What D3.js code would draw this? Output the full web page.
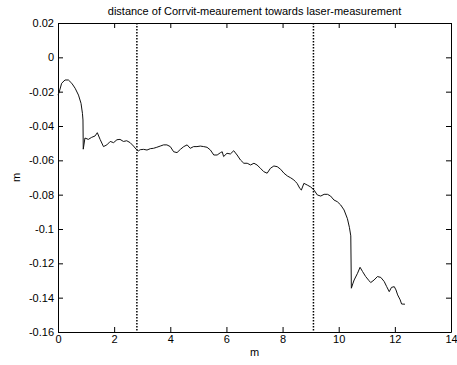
<!DOCTYPE html>
<html><head><meta charset="utf-8">
<script src="https://cdn.jsdelivr.net/npm/d3@7"></script>
<style>body{margin:0;background:#fff;}svg{display:block;}text{font-family:"Liberation Sans",Arial,sans-serif;fill:#000;}</style>
</head><body>
<script>
const titleText = "distance of Corrvit-meaurement towards laser-measurement";
const xLabel = "m";
const yLabel = "m";
const xTicks = [0, 2, 4, 6, 8, 10, 12, 14];
const yTicks = [0.02, 0, -0.02, -0.04, -0.06, -0.08, -0.1, -0.12, -0.14, -0.16];
const markerX = [2.81, 9.10];
const distX = [0,0.04,0.13,0.25,0.37,0.49,0.61,0.73,0.82,0.87,0.89,0.90,0.96,1.08,1.20,1.32,1.40,1.50,1.62,1.74,1.86,1.98,2.10,2.21,2.33,2.45,2.57,2.69,2.79,2.81,2.86,2.93,3.05,3.17,3.29,3.40,3.52,3.64,3.76,3.88,4.00,4.12,4.24,4.36,4.48,4.60,4.71,4.83,4.95,5.07,5.19,5.31,5.43,5.55,5.67,5.79,5.85,5.90,6.02,6.14,6.26,6.38,6.50,6.62,6.74,6.86,6.98,7.09,7.21,7.33,7.45,7.57,7.69,7.81,7.93,8.05,8.17,8.29,8.40,8.46,8.52,8.62,8.67,8.76,8.88,9.00,9.12,9.24,9.36,9.48,9.60,9.71,9.83,9.95,10.07,10.19,10.31,10.38,10.43,10.45,10.50,10.55,10.67,10.76,10.85,10.96,11.08,11.14,11.26,11.38,11.50,11.62,11.71,11.80,11.88,11.98,12.04,12.10,12.19,12.24,12.36];
const distY = [-0.022,-0.0204,-0.0151,-0.0132,-0.0132,-0.0151,-0.018,-0.022,-0.0268,-0.0326,-0.0365,-0.0535,-0.047,-0.0478,-0.0466,-0.0458,-0.0439,-0.0478,-0.052,-0.051,-0.049,-0.0497,-0.048,-0.0478,-0.049,-0.0486,-0.0497,-0.0517,-0.0536,-0.054,-0.0545,-0.0538,-0.0536,-0.054,-0.0532,-0.053,-0.0524,-0.0517,-0.051,-0.051,-0.052,-0.055,-0.0555,-0.0536,-0.052,-0.051,-0.053,-0.052,-0.052,-0.0517,-0.052,-0.0524,-0.054,-0.0569,-0.0569,-0.0555,-0.055,-0.0578,-0.0559,-0.0563,-0.0544,-0.0569,-0.0598,-0.0617,-0.0617,-0.0627,-0.0617,-0.0627,-0.0646,-0.0666,-0.0675,-0.0646,-0.0633,-0.0637,-0.0652,-0.0675,-0.0691,-0.0702,-0.0714,-0.0724,-0.0735,-0.0765,-0.0773,-0.0734,-0.0744,-0.0755,-0.0773,-0.0802,-0.0808,-0.0798,-0.0798,-0.0808,-0.0831,-0.0841,-0.086,-0.0889,-0.094,-0.099,-0.104,-0.1345,-0.132,-0.1297,-0.1258,-0.1223,-0.1248,-0.1277,-0.1301,-0.1312,-0.1297,-0.1277,-0.1282,-0.1306,-0.1336,-0.1365,-0.134,-0.1336,-0.1355,-0.1384,-0.1413,-0.1437,-0.1438];

const W = 457, H = 365;
const m = {left: 58, right: 6, top: 23, bottom: 33};
const svg = d3.select("body").append("svg").attr("width", W).attr("height", H);
const x = d3.scaleLinear().domain([0, 14]).range([m.left, W - m.right]);
const y = d3.scaleLinear().domain([-0.16, 0.02]).range([H - m.bottom, m.top]);
const fmt = d => d === 0 ? "0" : String(+d.toFixed(2));

const g = svg.append("g");
const ax = g.append("g").attr("transform", `translate(0,${y(-0.16)})`).call(d3.axisBottom(x).tickValues(xTicks).tickFormat(fmt).tickSizeInner(-5).tickSizeOuter(0).tickPadding(3));
const axT = g.append("g").attr("transform", `translate(0,${y(0.02)})`).call(d3.axisTop(x).tickValues(xTicks).tickFormat("").tickSizeInner(-5).tickSizeOuter(0));
const ay = g.append("g").attr("transform", `translate(${x(0)},0)`).call(d3.axisLeft(y).tickValues(yTicks).tickFormat(fmt).tickSizeInner(-5).tickSizeOuter(0).tickPadding(4));
const ayR = g.append("g").attr("transform", `translate(${x(14)},0)`).call(d3.axisRight(y).tickValues(yTicks).tickFormat("").tickSizeInner(-5).tickSizeOuter(0));
[ax, axT, ay, ayR].forEach(a => {
  a.selectAll("path").attr("stroke", "#000").attr("stroke-width", 1);
  a.selectAll("line").attr("stroke", "#000");
  a.selectAll("text").style("font-size", "11px").attr("fill", "#000").style("font-family", "'Liberation Sans', Arial, sans-serif");
});

g.selectAll("line.mk").data(markerX).enter().append("line").attr("class", "mk")
  .attr("x1", d => x(d)).attr("x2", d => x(d)).attr("y1", y(0.02)).attr("y2", y(-0.16))
  .attr("stroke", "#000").attr("stroke-width", 1.5).attr("stroke-dasharray", "1.5,1.5");

const pts = distX.map((d, i) => [d, distY[i]]);
g.append("path").datum(pts).attr("fill", "none").attr("stroke", "#111").attr("stroke-width", 1)
  .attr("d", d3.line().x(d => x(d[0])).y(d => y(d[1])));

svg.append("text").attr("x", (x(0) + x(14)) / 2).attr("y", 15).attr("text-anchor", "middle").style("font-size", "11px").text(titleText);
svg.append("text").attr("x", (x(0) + x(14)) / 2).attr("y", 356).attr("text-anchor", "middle").style("font-size", "11px").text(xLabel);
svg.append("text").attr("transform", `translate(20,${(y(0.02) + y(-0.16)) / 2}) rotate(-90)`).attr("text-anchor", "middle").style("font-size", "11px").text(yLabel);
</script>
</body></html>
